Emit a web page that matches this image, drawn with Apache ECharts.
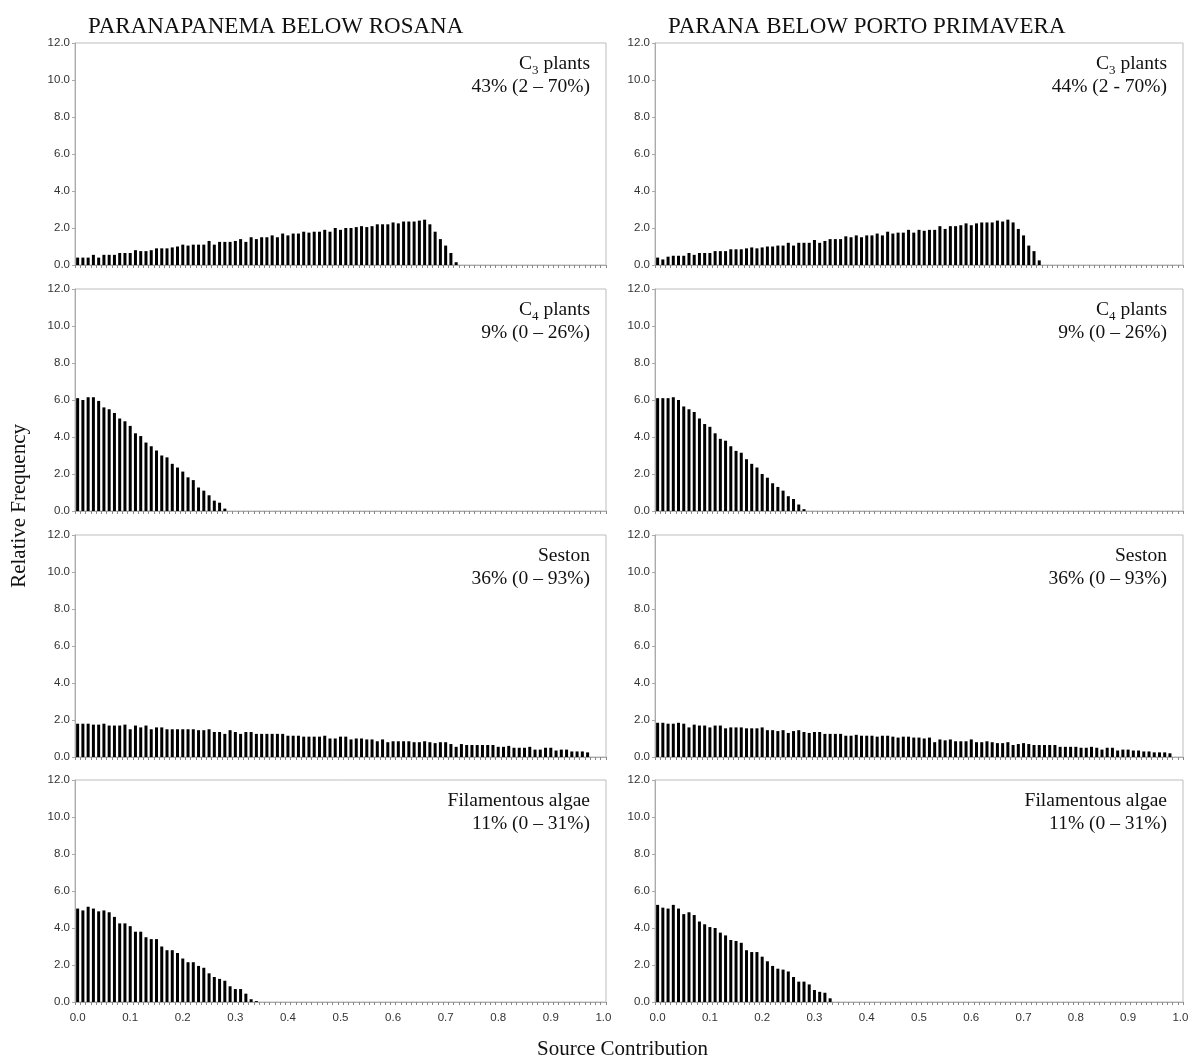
<!DOCTYPE html>
<html>
<head>
<meta charset="utf-8">
<script src="https://cdn.jsdelivr.net/npm/echarts@6/dist/echarts.min.js"></script>
<style>
  html, body { margin: 0; padding: 0; background: #fff; }
  #chart { width: 1194px; height: 1063px; }
</style>
</head>
<body>
<div id="chart"></div>
<script>
// Source contribution bins: 0.00, 0.01, ... 1.00
const bins = Array.from({ length: 101 }, (_, i) => (i / 100).toFixed(2));

const siteTitles = ['PARANAPANEMA BELOW ROSANA', 'PARANA BELOW PORTO PRIMAVERA'];

// Relative frequency per bin (bins beyond the listed ones are empty)
const c3Rosana = [0.4,0.4,0.4,0.55,0.4,0.55,0.55,0.55,0.65,0.65,0.65,0.8,0.75,0.75,0.8,0.9,0.9,0.9,0.95,1.0,
  1.1,1.05,1.1,1.1,1.1,1.3,1.1,1.25,1.25,1.25,1.3,1.4,1.25,1.5,1.4,1.5,1.5,1.6,1.5,1.7,
  1.6,1.7,1.7,1.8,1.75,1.8,1.8,1.9,1.8,2.0,1.9,2.0,2.0,2.05,2.1,2.05,2.1,2.2,2.2,2.2,
  2.3,2.25,2.35,2.35,2.35,2.4,2.45,2.2,1.8,1.4,1.05,0.65,0.15];
const c3Primavera = [0.4,0.3,0.45,0.5,0.5,0.5,0.65,0.55,0.65,0.65,0.65,0.75,0.75,0.75,0.85,0.85,0.85,0.9,0.95,0.9,
  0.95,1.0,1.0,1.05,1.05,1.2,1.05,1.2,1.2,1.2,1.35,1.2,1.3,1.4,1.4,1.4,1.55,1.5,1.6,1.5,
  1.6,1.6,1.7,1.6,1.8,1.7,1.75,1.75,1.9,1.75,1.9,1.85,1.9,1.9,2.1,1.95,2.1,2.1,2.15,2.25,
  2.15,2.25,2.3,2.3,2.3,2.4,2.35,2.45,2.3,1.95,1.6,1.05,0.75,0.25];

const c4Rosana = [6.1,6.0,6.15,6.15,5.95,5.6,5.5,5.3,5.0,4.85,4.6,4.2,4.05,3.7,3.5,3.27,3.0,2.9,2.55,2.35,
  2.13,1.82,1.67,1.27,1.1,0.85,0.56,0.45,0.13];
const c4Primavera = [6.1,6.1,6.1,6.15,6.0,5.65,5.5,5.35,5.0,4.7,4.55,4.2,3.9,3.8,3.5,3.25,3.15,2.8,2.55,2.35,
  2.0,1.8,1.5,1.3,1.1,0.8,0.65,0.35,0.1];

const sestonRosana = [1.8,1.8,1.8,1.75,1.75,1.8,1.7,1.7,1.7,1.75,
  1.5,1.7,1.6,1.7,1.5,1.6,1.6,1.5,1.5,1.5,
  1.5,1.5,1.5,1.45,1.45,1.5,1.35,1.35,1.25,1.45,
  1.35,1.25,1.35,1.35,1.25,1.25,1.25,1.25,1.25,1.25,
  1.15,1.15,1.15,1.1,1.1,1.1,1.1,1.15,1.0,1.0,
  1.1,1.1,0.95,1.0,1.0,0.95,0.95,0.85,0.95,0.8,
  0.85,0.85,0.85,0.85,0.8,0.8,0.85,0.8,0.75,0.8,
  0.8,0.7,0.55,0.7,0.65,0.65,0.65,0.65,0.65,0.65,
  0.55,0.55,0.6,0.5,0.5,0.5,0.55,0.4,0.4,0.5,
  0.5,0.35,0.4,0.4,0.3,0.3,0.3,0.25];
const sestonPrimavera = [1.85,1.85,1.8,1.8,1.85,1.8,1.6,1.75,1.7,1.7,
  1.6,1.7,1.7,1.55,1.6,1.6,1.6,1.55,1.55,1.55,
  1.6,1.45,1.45,1.4,1.45,1.3,1.4,1.45,1.35,1.3,
  1.35,1.35,1.25,1.25,1.25,1.25,1.15,1.15,1.2,1.15,
  1.15,1.15,1.1,1.15,1.15,1.1,1.05,1.1,1.1,1.05,
  1.05,1.0,1.05,0.8,0.95,0.9,0.95,0.85,0.85,0.85,
  0.95,0.8,0.8,0.85,0.8,0.75,0.75,0.8,0.65,0.7,
  0.75,0.7,0.65,0.65,0.65,0.65,0.65,0.55,0.55,0.55,
  0.55,0.5,0.5,0.55,0.5,0.4,0.5,0.5,0.35,0.4,
  0.4,0.35,0.35,0.3,0.3,0.25,0.25,0.25,0.2];

const algaeRosana = [5.05,4.95,5.15,5.05,4.9,4.95,4.85,4.6,4.25,4.25,4.1,3.8,3.8,3.5,3.4,3.4,3.0,2.8,2.8,2.65,
  2.35,2.15,2.15,1.95,1.85,1.55,1.35,1.25,1.15,0.85,0.7,0.7,0.45,0.15,0.05];
const algaePrimavera = [5.25,5.1,5.05,5.25,5.05,4.75,4.85,4.7,4.35,4.2,4.05,4.0,3.75,3.6,3.35,3.3,3.2,2.8,2.7,2.7,
  2.45,2.2,1.95,1.8,1.75,1.65,1.35,1.1,1.1,0.95,0.65,0.55,0.5,0.2];

// Source names (subscript digit kept separate) and summary label per panel
const sourceNames = [['C', '3', ' plants'], ['C', '4', ' plants'], ['Seston', '', ''], ['Filamentous algae', '', '']];
const summaryRosana = ['43% (2 – 70%)', '9% (0 – 26%)', '36% (0 – 93%)', '11% (0 – 31%)'];
const summaryPrimavera = ['44% (2 - 70%)', '9% (0 – 26%)', '36% (0 – 93%)', '11% (0 – 31%)'];

const yTicks = { min: 0, max: 12, interval: 2 };

const panelData = [
  [c3Rosana, c3Primavera],
  [c4Rosana, c4Primavera],
  [sestonRosana, sestonPrimavera],
  [algaeRosana, algaePrimavera]
];
const summaries = [summaryRosana, summaryPrimavera];

// Layout
const colLeft = [75, 655];
const colWidth = [531, 528];
const rowTop = [43, 289, 535, 780];
const rowHeight = 222;

const serif = '"Liberation Serif", "Times New Roman", serif';
const sans = '"Liberation Sans", Arial, sans-serif';

function padBins(arr) {
  return bins.map((_, i) => (i < arr.length ? arr[i] : 0));
}

const grids = [], xAxes = [], yAxes = [], series = [], titles = [];

for (let r = 0; r < 4; r++) {
  for (let c = 0; c < 2; c++) {
    const idx = grids.length;
    grids.push({
      left: colLeft[c], top: rowTop[r], width: colWidth[c], height: rowHeight,
      show: true, borderColor: '#bdbdbd', borderWidth: 1, backgroundColor: '#fff'
    });
    xAxes.push({
      type: 'category', gridIndex: idx, data: bins, boundaryGap: true,
      axisLine: { lineStyle: { color: '#aaa', width: 1 } },
      axisTick: { show: true, interval: 0, length: 3, lineStyle: { color: '#888' } },
      axisLabel: {
        show: r === 3,
        interval: (i) => i % 10 === 0,
        formatter: (v) => parseFloat(v).toFixed(1),
        fontFamily: sans, fontSize: 11.5, color: '#333', margin: 10
      },
      splitLine: { show: false }
    });
    yAxes.push({
      type: 'value', gridIndex: idx, min: yTicks.min, max: yTicks.max, interval: yTicks.interval,
      axisLine: { show: true, lineStyle: { color: '#aaa' } },
      axisTick: { show: true, length: 3, lineStyle: { color: '#aaa' } },
      axisLabel: { formatter: (v) => v.toFixed(1), fontFamily: sans, fontSize: 11.5, color: '#333', margin: 5 },
      splitLine: { show: false }
    });
    series.push({
      type: 'bar', xAxisIndex: idx, yAxisIndex: idx,
      data: padBins(panelData[r][c]),
      barWidth: 3,
      itemStyle: { color: '#000' },
      silent: true
    });
    const nm = sourceNames[r];
    const firstLine = nm[1]
      ? `{t|${nm[0]}}{s|${nm[1]}}{t|${nm[2]}}`
      : `{t|${nm[0]}}`;
    titles.push({
      text: firstLine + '\n{t|' + summaries[c][r] + '}',
      left: colLeft[c] + colWidth[c] - 16,
      top: rowTop[r] + 9,
      padding: 0,
      textAlign: 'right',
      textStyle: {
        fontFamily: serif, fontWeight: 'normal', color: '#111',
        rich: {
          t: { fontFamily: serif, fontSize: 19.5, color: '#111', lineHeight: 23 },
          s: { fontFamily: serif, fontSize: 13, color: '#111', lineHeight: 23, verticalAlign: 'bottom', padding: [0, 0, -2, 0] }
        }
      }
    });
  }
}

// Site headings
titles.push({
  text: siteTitles[0], left: 88, top: 15, padding: 0,
  textStyle: { fontFamily: serif, fontSize: 23, fontWeight: 'normal', color: '#111' }
});
titles.push({
  text: siteTitles[1], left: 668, top: 15, padding: 0,
  textStyle: { fontFamily: serif, fontSize: 23, fontWeight: 'normal', color: '#111' }
});

const chart = echarts.init(document.getElementById('chart'), null, { renderer: 'canvas' });
chart.setOption({
  backgroundColor: '#fff',
  animation: false,
  title: titles,
  grid: grids,
  xAxis: xAxes,
  yAxis: yAxes,
  series: series,
  graphic: [
    {
      type: 'text', left: 9, top: 424, rotation: Math.PI / 2,
      style: { text: 'Relative Frequency', fontFamily: serif, fontSize: 21, fill: '#111' }
    },
    {
      type: 'text', left: 537, top: 1039,
      style: { text: 'Source Contribution', fontFamily: serif, fontSize: 21, fill: '#111' }
    }
  ]
});
</script>
</body>
</html>
